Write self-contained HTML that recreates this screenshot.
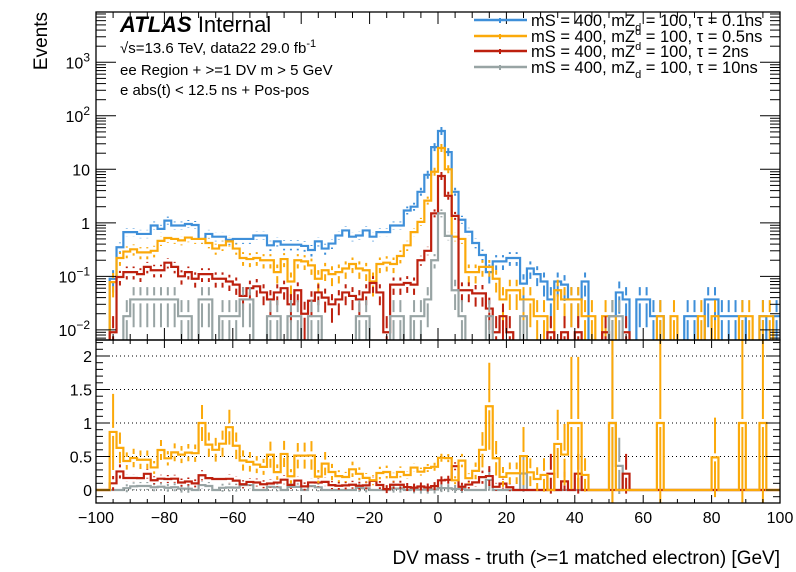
<!DOCTYPE html>
<html><head><meta charset="utf-8"><style>
html,body{margin:0;padding:0;background:#fff;}
svg{display:block;font-family:"Liberation Sans",sans-serif;}
</style></head><body>
<svg id="c" width="796" height="572" viewBox="0 0 796 572" xmlns="http://www.w3.org/2000/svg">
<rect x="0" y="0" width="796" height="572" fill="#fff"/>
<g id="marks"></g>
<g id="axes"></g>
<text x="120" y="32" font-size="22" font-weight="bold" font-style="italic">ATLAS <tspan font-weight="normal" font-style="normal">Internal</tspan></text>
<text x="120" y="53" font-size="15">√s=13.6 TeV, data22 29.0 fb<tspan dy="-6" font-size="11">-1</tspan></text>
<text x="120" y="75" font-size="15">ee Region + &gt;=1 DV m &gt; 5 GeV</text>
<text x="120" y="95" font-size="15">e abs(t) &lt; 12.5 ns + Pos-pos</text>
<g id="legend"></g>
<text transform="translate(47,12) rotate(-90)" text-anchor="end" font-size="19">Events</text>
<text x="780" y="564" text-anchor="end" font-size="19">DV mass - truth (&gt;=1 matched electron) [GeV]</text>
</svg>
<script>
const binEdgesStart = -100;
const binWidth = 2;
const blueVals = [0,0,0.09,0.35,0.67,0.67,0.62,0.62,0.89,0.77,1.1,0.89,0.89,0.95,0.91,0.5,0.62,0.55,0.55,0.48,0.5,0.5,0.5,0.58,0.58,0.38,0.45,0.39,0.39,0.39,0.37,0.31,0.45,0.33,0.41,0.58,0.72,0.55,0.58,0.72,0.55,0.67,0.67,0.89,0.89,1.7,2.0,3.8,7.9,26,
52,21,3.8,1.14,0.68,0.42,0.25,0.12,0.19,0.19,0.22,0.22,0.073,0.14,0.11,0.08,0.037,0.08,0.07,0.037,0.037,0.08,0,0,0,0.018,0.05,0.037,0,0.037,0.037,0.018,0.018,0,0,0,0.018,0.018,0,0.037,0.037,0.018,0.018,0.018,0.018,0,0,0.018,0,0.018];
const orangeVals = [0,0,0.078,0.22,0.29,0.32,0.28,0.28,0.3,0.46,0.52,0.5,0.47,0.53,0.5,0.5,0.42,0.33,0.38,0.45,0.33,0.22,0.21,0.22,0.2,0.2,0.12,0.21,0.08,0.2,0.19,0.16,0.09,0.13,0.11,0.12,0.14,0.17,0.14,0.13,0.08,0.17,0.18,0.17,0.24,0.38,0.67,1.04,2.6,9,
25,10,0.55,0.5,0.12,0.12,0.15,0.15,0.09,0.037,0.055,0.055,0.037,0.037,0.018,0.018,0,0.055,0.037,0.037,0.037,0.018,0.018,0,0.018,0.018,0,0,0,0,0,0,0.018,0,0.018,0,0,0,0.018,0,0.018,0,0,0,0.018,0.018,0,0.018,0.018,0];
const redVals = [0,0,0.009,0.097,0.12,0.12,0.11,0.15,0.13,0.13,0.18,0.15,0.1,0.12,0.09,0.11,0.11,0.09,0.09,0.08,0.07,0.043,0.06,0.065,0.05,0.037,0.05,0.06,0.03,0.055,0.02,0.035,0.05,0.04,0.03,0.037,0.05,0.043,0.037,0.05,0.075,0.05,0.009,0.07,0.07,0.075,0.07,0.2,0.3,1.5,
7.5,3.2,1.35,0.055,0.055,0.048,0.048,0.025,0.009,0.018,0.009,0,0,0,0,0,0.009,0,0.009,0,0.009,0,0,0,0.009,0,0,0.009,0,0,0,0,0,0,0,0,0,0,0,0,0,0,0,0,0,0,0,0,0,0];
const grayVals = [0,0,0,0,0.018,0.037,0.037,0.037,0.037,0.037,0.037,0.037,0.018,0.018,0,0.037,0.037,0,0.018,0.018,0.018,0.037,0.037,0,0,0.018,0.018,0,0.018,0.018,0,0.018,0.018,0,0,0,0,0,0.018,0.018,0,0,0,0.018,0.018,0,0.018,0.018,0.037,0.2,
1.5,0.57,0.055,0.018,0,0,0,0.018,0,0,0,0,0.018,0,0,0,0,0,0,0,0,0,0,0,0,0.018,0.018,0,0,0,0,0,0,0,0,0,0,0,0,0,0,0,0,0,0,0,0,0,0,0];
const seriesLabels = ["0.1ns","0.5ns","2ns","10ns"];
const xTickLabels = [-100,-80,-60,-40,-20,0,20,40,60,80,100];
const logTickExps = [-2,-1,0,1,2,3];
const ratioTickLabels = [0,0.5,1,1.5,2];

const NS="http://www.w3.org/2000/svg";
const X0=96,X1=780,TY0=12,TY1=340,BY0=340,BY1=503;
const LMIN=-2.19,LMAX=3.94;
function xs(v){return X0+(v+100)/200*(X1-X0);}
function ys(v){const l=Math.log10(v);return TY1-(l-LMIN)/(LMAX-LMIN)*(TY1-TY0);}
function yr(v){return 490-67*v;}
const marks=document.getElementById('marks'),axes=document.getElementById('axes');
function mk(tag,attrs,parent){const e=document.createElementNS(NS,tag);for(const k in attrs)e.setAttribute(k,attrs[k]);parent.appendChild(e);return e;}
const defs=mk('defs',{},marks);
const cp1=mk('clipPath',{id:'cTop'},defs);mk('rect',{x:X0,y:TY0,width:X1-X0,height:TY1-TY0},cp1);
const cp2=mk('clipPath',{id:'cBot'},defs);mk('rect',{x:X0,y:BY0,width:X1-X0,height:BY1-BY0},cp2);
const gTop=mk('g',{'clip-path':'url(#cTop)'},marks);
const gBot=mk('g',{'clip-path':'url(#cBot)'},marks);
ratioTickLabels.forEach(t=>{const l=mk('line',{x1:X0,x2:X1,y1:yr(t),y2:yr(t),stroke:'#000','stroke-width':1,'stroke-dasharray':'1,3'},gBot);

});
const colors=['#3e8fd9','#fba90a','#bd200e','#98a4a4'];
const allSeries=[blueVals,orangeVals,redVals,grayVals];
const unit=[0.018,0.018,0.009,0.018];
function topY(v){return v>0?Math.max(Math.min(ys(v),TY1+5),TY0-5):TY1+5;}
[0,1,2,3].forEach(s=>{
  const vals=allSeries[s];const c=colors[s];
  let d='';
  vals.forEach((v,i)=>{const xa=xs(binEdgesStart+i*binWidth),xb=xs(binEdgesStart+(i+1)*binWidth);const y=topY(v);
    d+=(i===0?'M':'L')+xa+','+y+'L'+xb+','+y;});
  const p=mk('path',{d:d,fill:'none',stroke:c,'stroke-width':2.2},gTop);
  
  
  vals.forEach((v,i)=>{if(v<=0)return;const xc=xs(binEdgesStart+(i+0.5)*binWidth);
    const e=Math.sqrt(v*unit[s]);const lo=v-e>0?ys(v-e):TY1+5,hi=ys(v+e);const y=ys(v);
    const l=mk('path',{d:'M'+xc+','+hi+'L'+xc+','+(y-4)+'M'+xc+','+(y+4)+'L'+xc+','+lo,stroke:c,'stroke-width':2,fill:'none'},gTop);
    
    });
});
[3,2,1].forEach(s=>{
  const vals=allSeries[s];const c=colors[s];let d='';
  vals.forEach((v,i)=>{const b=blueVals[i];const r=b>0?v/b:0;const xa=xs(binEdgesStart+i*binWidth),xb=xs(binEdgesStart+(i+1)*binWidth);
    d+=(i===0?'M':'L')+xa+','+yr(r)+'L'+xb+','+yr(r);});
  const p=mk('path',{d:d,fill:'none',stroke:c,'stroke-width':2.2},gBot);
  
  
  vals.forEach((v,i)=>{const b=blueVals[i];if(!(b>0&&v>0))return;const r=v/b;
    const e=r*Math.sqrt(unit[s]/v+0.018/b);const xc=xs(binEdgesStart+(i+0.5)*binWidth);
    const l=mk('path',{d:'M'+xc+','+yr(r+e)+'L'+xc+','+(yr(r)-4)+'M'+xc+','+(yr(r)+4)+'L'+xc+','+yr(r-e),stroke:c,'stroke-width':2,fill:'none'},gBot);
    
    });
});
[[TY0,TY1],[BY0,BY1]].forEach(([a,b],k)=>{const r=mk('rect',{x:X0,y:a,width:X1-X0,height:b-a,fill:'none',stroke:'#000','stroke-width':1.3},axes);

});
for(let v=-100;v<=100;v+=5){const x=xs(v);const maj=v%20===0;const L1=maj?12:6,L2=maj?8:4;
  mk('line',{x1:x,x2:x,y1:TY1,y2:TY1-L1,stroke:'#000'},axes);mk('line',{x1:x,x2:x,y1:TY0,y2:TY0+L1,stroke:'#000'},axes);
  mk('line',{x1:x,x2:x,y1:BY1,y2:BY1-L2,stroke:'#000'},axes);mk('line',{x1:x,x2:x,y1:BY0,y2:BY0+L2,stroke:'#000'},axes);}
xTickLabels.forEach(v=>{const t=mk('text',{x:xs(v),y:523,'text-anchor':'middle','font-size':16},axes);t.textContent=String(v).replace('-','\u2212');

});
for(let e=-3;e<=3;e++){for(let m=1;m<=9;m++){const v=m*Math.pow(10,e);const y=ys(v);if(y<TY0||y>TY1)continue;const L=m===1?20:10;
  mk('line',{x1:X0,x2:X0+L,y1:y,y2:y,stroke:'#000'},axes);mk('line',{x1:X1,x2:X1-L,y1:y,y2:y,stroke:'#000'},axes);}}
logTickExps.forEach(e=>{const y=ys(Math.pow(10,e));const t=mk('text',{x:90,y:y+6,'text-anchor':'end','font-size':16},axes);
  if(e===0)t.textContent='1';else if(e===1)t.textContent='10';else{t.textContent='10';const s=mk('tspan',{dy:-7,'font-size':12},t);s.textContent=String(e).replace('-','\u2212');}
  
  });
for(let v=-0.2;v<=2.25;v+=0.1){const y=yr(v);if(y<BY0||y>BY1)continue;const maj=Math.abs(v*2-Math.round(v*2))<1e-6;const L=maj?14:7;
  mk('line',{x1:X0,x2:X0+L,y1:y,y2:y,stroke:'#000'},axes);mk('line',{x1:X1,x2:X1-L,y1:y,y2:y,stroke:'#000'},axes);}
ratioTickLabels.forEach(v=>{const t=mk('text',{x:92,y:yr(v)+6,'text-anchor':'end','font-size':16},axes);t.textContent=String(v);

});
const leg=document.getElementById('legend');
const legY=[20,36,51,67];
seriesLabels.forEach((lab,i)=>{const g=mk('g',{},leg);
  
  
  mk('line',{x1:474,x2:527,y1:legY[i],y2:legY[i],stroke:colors[i],'stroke-width':2.5},g);
  mk('line',{x1:500,x2:500,y1:legY[i]-2,y2:legY[i]+3,stroke:colors[i],'stroke-width':2},g);
  const t=mk('text',{x:531,y:legY[i]+6,'font-size':16.5},g);
  t.appendChild(document.createTextNode('mS = 400, mZ'));
  const sb=mk('tspan',{'font-size':11,dy:(i===0||i===3)?5:-7},t);sb.textContent='d';
  const rest=mk('tspan',{dy:(i===0||i===3)?-5:7},t);rest.textContent=' = 100, \u03c4 = '+lab;
});
</script>
</body></html>
